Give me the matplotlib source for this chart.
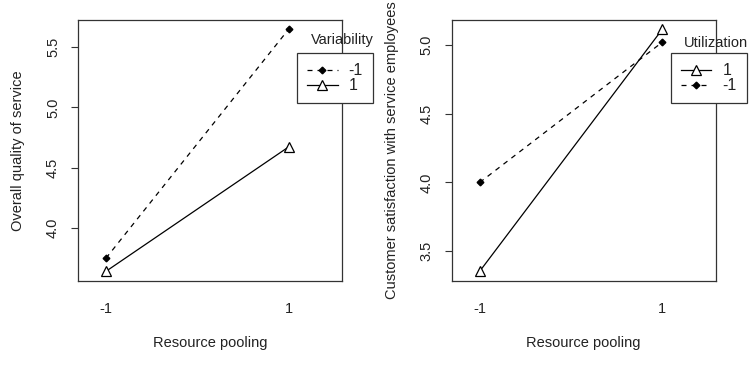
import matplotlib
matplotlib.use("Agg")
import matplotlib.pyplot as plt

plt.rcParams['font.family'] = ['Liberation Sans', 'DejaVu Sans']

# Data
x_levels = ["-1", "1"]
left_series_labels = ["-1", "1"]          # Variability
left_values = {"-1": [3.747, 5.650], "1": [3.638, 4.672]}
right_series_labels = ["1", "-1"]         # Utilization
right_values = {"1": [3.355, 5.113], "-1": [4.000, 5.019]}
left_yticks = [4.0, 4.5, 5.0, 5.5]
right_yticks = [3.5, 4.0, 4.5, 5.0]

styles = {
    "-1": dict(linestyle=(0, (4, 4)), marker="D", markersize=3.4, markerfacecolor="black",
               markeredgecolor="black"),
    "1": dict(linestyle="-", marker="^", markersize=7, markerfacecolor="white",
              markeredgecolor="black", markeredgewidth=0.9),
}

FS = 10.5
LFS = 11.5
fig = plt.figure(figsize=(7.53, 3.66), dpi=100)

def panel(rect, series_labels, values, yticks, ylabel, legend_title, title_y):
    ax = fig.add_axes(rect)
    xs = list(range(1, len(x_levels) + 1))
    handles = []
    for lab in series_labels:
        st = styles[lab]
        h, = ax.plot(xs, values[lab], color="black", linewidth=0.9, **st)
        handles.append(h)
    allv = [v for lab in series_labels for v in values[lab]]
    lo, hi = min(allv), max(allv)
    pad = (hi - lo) * 0.04
    ax.set_ylim(lo - pad, hi + pad)
    ax.set_xlim(0.847, 2.292)
    ax.set_xticks(xs)
    ax.set_xticklabels(x_levels, fontsize=FS, color="#222")
    ax.tick_params(axis="x", length=0, pad=15)
    ax.set_yticks(yticks)
    ax.set_yticklabels([f"{t:.1f}" for t in yticks], fontsize=FS, color="#222",
                       rotation=90, va="center")
    ax.tick_params(axis="y", length=5, width=0.8, pad=8, color="#333")
    for s in ax.spines.values():
        s.set_linewidth(0.9)
        s.set_color("#333")
    ax.set_xlabel("Resource pooling", fontsize=FS, color="#222")
    ax.xaxis.set_label_coords(0.5, -0.237)
    ax.xaxis.label.set_va("center")
    ax.set_ylabel(ylabel, fontsize=FS, color="#222")
    ax.yaxis.set_label_coords(-0.228, 0.5)
    ax.yaxis.label.set_va("center")
    leg = ax.legend(handles, series_labels, loc="upper left",
                    bbox_to_anchor=(0.8307, 0.8707), bbox_transform=ax.transAxes,
                    borderaxespad=0, fontsize=LFS, frameon=True, fancybox=False,
                    edgecolor="#333", framealpha=1, handlelength=1.9,
                    handletextpad=0.7, labelspacing=0.0, borderpad=0.62)
    leg.get_frame().set_linewidth(0.9)
    for t in leg.get_texts():
        t.set_color("#222")
    leg.set_clip_on(False)
    ax.text(1.0, title_y, legend_title, transform=ax.transAxes, ha="center",
            va="center", fontsize=FS, color="#222", clip_on=False)
    return ax

panel([0.1036, 0.2322, 0.3506, 0.7145], left_series_labels, left_values, left_yticks,
      "Overall quality of service", "Variability", 0.9216)
panel([0.5999, 0.2322, 0.3506, 0.7145], right_series_labels, right_values, right_yticks,
      "Customer satisfaction with service employees", "Utilization", 0.911)

fig.savefig("out.png", dpi=100, facecolor="white")
